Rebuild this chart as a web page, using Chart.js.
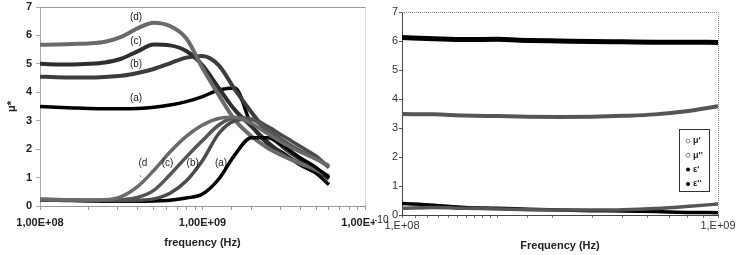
<!DOCTYPE html>
<html>
<head>
<meta charset="utf-8">
<script src="https://cdn.jsdelivr.net/npm/chart.js@4.4.1/dist/chart.umd.min.js"></script>
<style>
  html, body { margin: 0; padding: 0; background: #fff; }
  .wrap { position: relative; width: 750px; height: 255px; overflow: hidden; }
  .pane { position: absolute; top: 0; width: 375px; height: 255px; }
</style>
</head>
<body>
<div class="wrap">
  <div class="pane" style="left:0"><canvas id="left" width="375" height="255"></canvas></div>
  <div class="pane" style="left:375px"><canvas id="right" width="375" height="255"></canvas></div>
</div>
<script>
// ---- left panel: mu' and mu'' of samples (a)-(d)
const freqLeft = [1.0e8, 1.26e8, 1.58e8, 2.0e8, 2.51e8, 3.16e8, 3.98e8, 5.01e8, 6.31e8, 7.94e8,
                  1.0e9, 1.26e9, 1.58e9, 2.0e9, 2.51e9, 3.16e9, 3.98e9, 5.01e9, 6.0e9];
const realA = [3.5, 3.47, 3.45, 3.43, 3.42, 3.42, 3.43, 3.47, 3.55, 3.67, 3.85, 4.08, 4.15, 2.85, 2.2, 1.85, 1.45, 1.15, 0.75];
const realB = [4.55, 4.53, 4.52, 4.52, 4.54, 4.58, 4.68, 4.82, 5.02, 5.22, 5.28, 4.95, 4.1, 3.3, 2.6, 2.05, 1.65, 1.3, 0.95];
const realC = [5.0, 4.98, 4.98, 5.0, 5.05, 5.18, 5.44, 5.68, 5.65, 5.45, 4.95, 4.15, 3.38, 2.8, 2.25, 1.8, 1.5, 1.25, 1.0];
const realD = [5.67, 5.68, 5.7, 5.72, 5.78, 5.95, 6.25, 6.45, 6.33, 5.9, 4.85, 3.9, 3.03, 2.45, 2.05, 1.75, 1.5, 1.28, 1.05];
const imagA = [0.22, 0.2, 0.19, 0.18, 0.17, 0.17, 0.17, 0.18, 0.2, 0.28, 0.42, 0.95, 1.8, 2.4, 2.4, 2.1, 1.7, 1.35, 1.0];
const imagB = [0.22, 0.2, 0.2, 0.19, 0.19, 0.19, 0.2, 0.25, 0.45, 0.88, 1.6, 2.55, 3.0, 3.05, 2.8, 2.45, 2.1, 1.75, 1.35];
const imagC = [0.22, 0.21, 0.2, 0.2, 0.2, 0.22, 0.3, 0.55, 1.1, 1.72, 2.3, 2.85, 3.1, 3.05, 2.7, 2.3, 1.95, 1.65, 1.38];
const imagD = [0.25, 0.23, 0.22, 0.21, 0.22, 0.33, 0.68, 1.25, 1.9, 2.45, 2.85, 3.08, 3.12, 2.9, 2.55, 2.2, 1.9, 1.65, 1.42];
const sampleLabels = ['(a)', '(b)', '(c)', '(d)'];
const tickValuesLeft = [1e8, 1e9, 1e10];
const tickLabelsLeft = ['1,00E+08', '1,00E+09', '1,00E+10'];

// ---- right panel: mu', mu'', eps', eps''
const freqRight = [1.0e8, 1.26e8, 1.58e8, 2.0e8, 2.51e8, 3.16e8, 3.98e8, 5.01e8, 6.31e8, 7.94e8, 1.0e9];
const muReal = [3.48, 3.47, 3.43, 3.41, 3.39, 3.38, 3.39, 3.42, 3.47, 3.58, 3.75];
const muImag = [0.23, 0.26, 0.23, 0.21, 0.18, 0.17, 0.17, 0.18, 0.22, 0.29, 0.38];
const epsReal = [6.12, 6.08, 6.05, 6.06, 6.02, 6.0, 5.98, 5.97, 5.96, 5.96, 5.95];
const epsImag = [0.4, 0.34, 0.26, 0.23, 0.2, 0.17, 0.15, 0.14, 0.12, 0.09, 0.08];
const legendLabels = ["\u03bc'", "\u03bc''", "\u03b5'", "\u03b5''"];
const tickValuesRight = [1e8, 1e9];
const tickLabelsRight = ['1,E+08', '1,E+09'];

const FONT = '"Liberation Sans", Arial, sans-serif';

function pts(xs, ys) { return ys.map((y, i) => ({ x: xs[i], y })); }

function solid(label, xs, ys, color, width) {
  return [{ label, data: pts(xs, ys), borderColor: color, borderWidth: width,
            pointRadius: 0, fill: false, cubicInterpolationMode: 'monotone' }];
}
// open-marker series look like a dark band with a light core
function band(label, xs, ys, outer, inner, width) {
  return [
    { label, data: pts(xs, ys), borderColor: outer, borderWidth: width,
      pointRadius: 0, fill: false, cubicInterpolationMode: 'monotone' },
    { label: label + '_core', data: pts(xs, ys), borderColor: inner, borderWidth: 1.2,
      borderDash: [2, 1], pointRadius: 0, fill: false, cubicInterpolationMode: 'monotone' }
  ];
}

function labelFor(values, labels) {
  return v => {
    const i = values.findIndex(t => Math.abs(v / t - 1) < 1e-6);
    return i >= 0 ? labels[i] : '';
  };
}

const frameLeft = {
  id: 'frameLeft',
  afterDraw(chart) {
    const { ctx, chartArea: a, scales } = chart;
    ctx.save();
    ctx.lineWidth = 1;
    ctx.strokeStyle = '#9a9a9a';
    ctx.beginPath(); ctx.moveTo(a.left, a.top + 0.5); ctx.lineTo(a.right, a.top + 0.5); ctx.stroke();
    ctx.strokeStyle = '#bbb';
    ctx.setLineDash([1, 1]);
    ctx.beginPath(); ctx.moveTo(a.right + 0.5, a.top); ctx.lineTo(a.right + 0.5, a.bottom); ctx.stroke();
    ctx.setLineDash([]);
    // sample tags
    ctx.fillStyle = '#222';
    ctx.font = '10px ' + FONT;
    ctx.textAlign = 'center';
    ctx.textBaseline = 'middle';
    const up = [[3.9e8, 3.8], [3.9e8, 5.0], [3.9e8, 5.8], [3.9e8, 6.65]];
    const low = [[1.3e9, 1.5], [8.7e8, 1.5], [6.1e8, 1.5], [4.3e8, 1.5]];
    sampleLabels.forEach((t, i) => {
      ctx.fillText(t, scales.x.getPixelForValue(up[i][0]), scales.y.getPixelForValue(up[i][1]));
      const txt = i === 3 ? '(d' : t;
      ctx.fillText(txt, scales.x.getPixelForValue(low[i][0]), scales.y.getPixelForValue(low[i][1]));
    });
    ctx.fillText('\u02cc', scales.x.getPixelForValue(4.15e8), scales.y.getPixelForValue(1.18));
    ctx.restore();
  }
};

const frameRight = {
  id: 'frameRight',
  afterDraw(chart) {
    const { ctx, chartArea: a } = chart;
    ctx.save();
    ctx.lineWidth = 1;
    ctx.strokeStyle = '#8a8a8a';
    ctx.setLineDash([1, 1]);
    ctx.beginPath();
    ctx.moveTo(a.left, a.top + 0.5); ctx.lineTo(a.right + 0.5, a.top + 0.5); ctx.lineTo(a.right + 0.5, a.bottom);
    ctx.stroke();
    ctx.setLineDash([]);
    // legend box
    const bx = 304, by = 129, bw = 30, bh = 62;
    ctx.strokeStyle = '#333';
    ctx.fillStyle = '#fff';
    ctx.fillRect(bx, by, bw, bh);
    ctx.strokeRect(bx + 0.5, by + 0.5, bw, bh);
    ctx.font = 'bold 9px ' + FONT;
    ctx.textAlign = 'left';
    ctx.textBaseline = 'middle';
    legendLabels.forEach((t, i) => {
      const y = by + 12 + i * 14.3;
      ctx.beginPath();
      ctx.arc(bx + 9, y, 2, 0, Math.PI * 2);
      if (i < 2) { ctx.strokeStyle = '#888'; ctx.stroke(); }
      else { ctx.fillStyle = '#000'; ctx.fill(); }
      ctx.fillStyle = '#222';
      ctx.fillText(t, bx + 14, y);
    });
    // stray text left of the origin
    ctx.font = '10px ' + FONT;
    ctx.fillStyle = '#222';
    ctx.fillText('-10', -1, 220);
    ctx.restore();
  }
};

Chart.defaults.font.family = FONT;

new Chart(document.getElementById('left'), {
  type: 'line',
  data: {
    datasets: [
      ...band('imag d', freqLeft, imagD, '#6a6a6a', '#e0e0e0', 3.5),
      ...band('imag c', freqLeft, imagC, '#555', '#cfcfcf', 3.5),
      ...band('imag b', freqLeft, imagB, '#4a4a4a', '#c4c4c4', 3.5),
      ...solid('imag a', freqLeft, imagA, '#000', 3.5),
      ...band('real d', freqLeft, realD, '#6a6a6a', '#e0e0e0', 4),
      ...band('real c', freqLeft, realC, '#2e2e2e', '#999', 4),
      ...band('real b', freqLeft, realB, '#3c3c3c', '#aaa', 4),
      ...solid('real a', freqLeft, realA, '#000', 3.5)
    ]
  },
  options: {
    responsive: false, animation: false, devicePixelRatio: 1,
    layout: { padding: { left: 0, top: 7, right: 10, bottom: 0 } },
    plugins: { legend: { display: false }, tooltip: { enabled: false } },
    scales: {
      x: {
        type: 'logarithmic', min: 1e8, max: 1e10,
        ticks: { autoSkip: false, maxRotation: 0, padding: 6, color: '#222',
                 font: { size: 11, weight: 'bold' }, callback: labelFor(tickValuesLeft, tickLabelsLeft) },
        grid: { drawOnChartArea: false, tickLength: 4, color: '#999' },
        border: { color: '#999', dash: [1, 1] },
        title: { display: true, text: 'frequency (Hz)', color: '#222',
                 font: { size: 11, weight: 'bold' }, padding: { top: 0, bottom: 5 } },
        afterFit: s => { s.height = 49; s.paddingLeft = 0; s.paddingRight = 0; }
      },
      y: {
        min: 0, max: 7,
        ticks: { stepSize: 1, padding: 4, color: '#222', font: { size: 11, weight: 'bold' } },
        grid: { drawOnChartArea: false, tickLength: 4, color: '#aaa' },
        border: { color: '#aaa' },
        title: { display: true, text: '\u03bc*', color: '#222',
                 font: { size: 11, weight: 'bold' }, padding: { top: 5, bottom: 0 } },
        afterFit: s => { s.width = 40; s.paddingTop = 0; s.paddingBottom = 0; }
      }
    }
  },
  plugins: [frameLeft]
});

new Chart(document.getElementById('right'), {
  type: 'line',
  data: {
    datasets: [
      ...band(legendLabels[1], freqRight, muImag, '#555', '#d8d8d8', 3.5),
      ...solid(legendLabels[3], freqRight, epsImag, '#000', 3.5),
      ...band(legendLabels[0], freqRight, muReal, '#555', '#d8d8d8', 4),
      ...solid(legendLabels[2], freqRight, epsReal, '#000', 5)
    ]
  },
  options: {
    responsive: false, animation: false, devicePixelRatio: 1,
    layout: { padding: { left: 0, top: 12, right: 32, bottom: 0 } },
    plugins: { legend: { display: false }, tooltip: { enabled: false } },
    scales: {
      x: {
        type: 'logarithmic', min: 1e8, max: 1e9,
        ticks: { autoSkip: false, maxRotation: 0, padding: 1, color: '#333',
                 font: { size: 11 }, callback: labelFor(tickValuesRight, tickLabelsRight) },
        grid: { drawOnChartArea: false, tickLength: 3, color: '#777' },
        border: { color: '#444' },
        title: { display: true, text: 'Frequency (Hz)', color: '#222',
                 font: { size: 11, weight: 'bold' }, padding: { top: 0, bottom: 2 } },
        afterFit: s => { s.height = 40; s.paddingLeft = 0; s.paddingRight = 0; }
      },
      y: {
        min: 0, max: 7,
        ticks: { stepSize: 1, padding: 1, color: '#333', font: { size: 11 } },
        grid: { drawOnChartArea: false, tickLength: 3, color: '#555' },
        border: { color: '#444' },
        afterFit: s => { s.width = 27; s.paddingTop = 0; s.paddingBottom = 0; }
      }
    }
  },
  plugins: [frameRight]
});
</script>
</body>
</html>
